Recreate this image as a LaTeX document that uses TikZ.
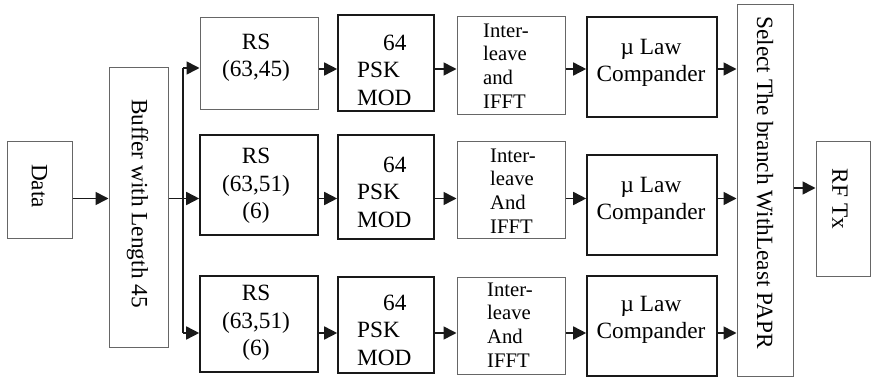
\documentclass[tikz,border=0pt]{standalone}
\usepackage{fontspec}
\setmainfont{Liberation Serif}
\usetikzlibrary{arrows.meta}
\begin{document}
\begin{tikzpicture}[x=1pt,y=-1pt,
  thinbox/.style={draw=black!60,line width=1pt,fill=white},
  thickbox/.style={draw=black!90,line width=1.6pt,fill=white},
  txt/.style={inner sep=0pt,font=\fontsize{23.3}{27.5}\selectfont},
  itxt/.style={inner sep=0pt,align=left,font=\fontsize{20.7}{23.8}\selectfont},
  arr/.style={draw=black!90,line width=1.6pt,-{Triangle[length=13pt,width=13pt]}},
  ln/.style={draw=black!90,line width=1.6pt}]
\useasboundingbox (0,0) rectangle (871,377);
% rows
\coordinate (r1) at (0,69);
\coordinate (r2) at (0,198.5);
\coordinate (r3) at (0,333);
% boxes
\node[thinbox,minimum width=65,minimum height=97] (data) at (39.5,190.5) {};
\node[txt,rotate=-90] (datat) at (39.5,186) {Data};
\node[thinbox,minimum width=59,minimum height=279] (buf) at (138.5,207.5) {};
\node[txt,rotate=-90] (buft) at (137.5,203.5) {Buffer with Length 45};
% RS
\node[thinbox,minimum width=118,minimum height=92] (rs1) at (259,64) {};
\node[txt,align=center] (rs1t) at (256,58) {RS\\(63,45)};
\node[thickbox,minimum width=118,minimum height=100] (rs2) at (259,185) {};
\node[txt,align=center] (rs2t) at (256,186) {RS\\(63,51)\\(6)};
\node[thickbox,minimum width=118,minimum height=96] (rs3) at (259,324) {};
\node[txt,align=center] (rs3t) at (256,323) {RS\\(63,51)\\(6)};
% PSK
\node[thickbox,minimum width=96,minimum height=96] (psk1) at (386,63) {};
\node[txt,align=left,anchor=west] (psk1t) at (357,70) {\hspace*{26pt}64\\PSK\\MOD};
\node[thickbox,minimum width=96,minimum height=104] (psk2) at (386,187) {};
\node[txt,align=left,anchor=west] (psk2t) at (357,192) {\hspace*{26pt}64\\PSK\\MOD};
\node[thickbox,minimum width=96,minimum height=96] (psk3) at (386,325) {};
\node[txt,align=left,anchor=west] (psk3t) at (357,330) {\hspace*{26pt}64\\PSK\\MOD};
% Interleave
\node[thinbox,minimum width=108,minimum height=98] (il1) at (511,66) {};
\node[itxt,anchor=west] (il1t) at (483,66) {Inter-\\leave\\and\\IFFT};
\node[thinbox,minimum width=108,minimum height=97] (il2) at (511,190.5) {};
\node[itxt,anchor=west] (il2t) at (490,191) {Inter-\\leave\\And\\IFFT};
\node[thinbox,minimum width=108,minimum height=97] (il3) at (511,325.5) {};
\node[itxt,anchor=west] (il3t) at (487,325) {Inter-\\leave\\And\\IFFT};
% Compander
\node[thickbox,minimum width=130,minimum height=100] (cp1) at (652,67) {};
\node[txt,align=center] (cp1t) at (651,63) {\textmu\ Law\\Compander};
\node[thickbox,minimum width=130,minimum height=100] (cp2) at (652,205) {};
\node[txt,align=center] (cp2t) at (651,201) {\textmu\ Law\\Compander};
\node[thickbox,minimum width=130,minimum height=100] (cp3) at (652,326) {};
\node[txt,align=center] (cp3t) at (651,320) {\textmu\ Law\\Compander};
% Select
\node[thinbox,minimum width=56,minimum height=371] (sel) at (765,190.5) {};
\node[txt,rotate=-90] (selt) at (765,182.5) {Select The branch WithLeast PAPR};
% RF
\node[thinbox,minimum width=54,minimum height=134] (rf) at (843,209) {};
\node[txt,rotate=-90] (rft) at (840,199) {RF Tx};
% connectors
\coordinate (split) at (183,198.5);
\coordinate (spl1) at (183,68);
\coordinate (spl3) at (183,333);
\draw[arr] (data.east |- r2) -- (buf.west |- r2);
\draw[ln] (buf.east |- r2) -- (split);
\draw[ln] (spl1) -- (spl3);
\draw[arr] (spl1) -- (rs1.west |- spl1);
\draw[arr] (split) -- (rs2.west |- split);
\draw[arr] (spl3) -- (rs3.west |- spl3);
\foreach \r in {1,2,3}{
  \draw[arr] (rs\r.east |- r\r) -- (psk\r.west |- r\r);
  \draw[arr] (psk\r.east |- r\r) -- (il\r.west |- r\r);
  \draw[arr] (il\r.east |- r\r) -- (cp\r.west |- r\r);
  \draw[arr] (cp\r.east |- r\r) -- (sel.west |- r\r);
}
\coordinate (r4) at (0,188);
\draw[arr] (sel.east |- r4) -- (rf.west |- r4);
\end{tikzpicture}
\end{document}
